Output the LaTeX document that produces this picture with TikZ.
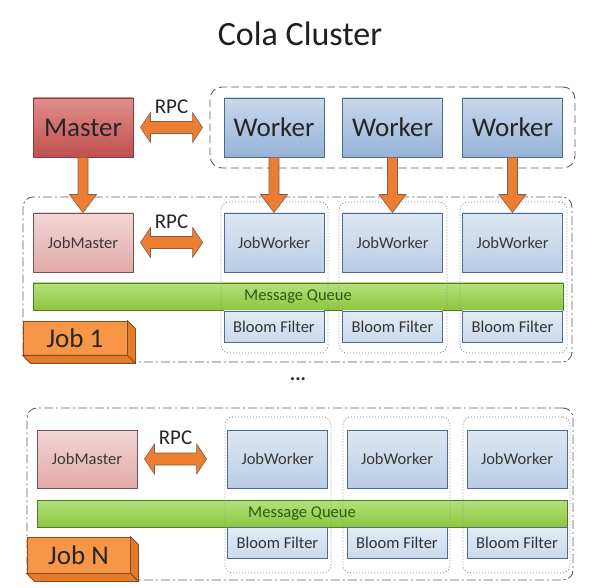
\documentclass[tikz,border=0pt]{standalone}
\usepackage{fontspec}
\setmainfont{Carlito}
\usetikzlibrary{calc}
\definecolor{masterTop}{HTML}{E08E8B}
\definecolor{masterBot}{HTML}{C0504D}
\definecolor{masterDraw}{HTML}{8C3836}
\definecolor{workerTop}{HTML}{C9D8EC}
\definecolor{workerBot}{HTML}{95B3D7}
\definecolor{blueDraw}{HTML}{4F6A8F}
\definecolor{jmTop}{HTML}{F3D6D5}
\definecolor{jmBot}{HTML}{E2A9A7}
\definecolor{jmDraw}{HTML}{6E5656}
\definecolor{jwTop}{HTML}{DDE7F3}
\definecolor{jwBot}{HTML}{B9CDE5}
\definecolor{bfTop}{HTML}{E3EBF5}
\definecolor{bfBot}{HTML}{C9D9EC}
\definecolor{mqTop}{HTML}{B5DF7E}
\definecolor{mqBot}{HTML}{8CC63F}
\definecolor{mqDraw}{HTML}{4F7A28}
\definecolor{mqText}{HTML}{2E5A12}
\definecolor{orangeFill}{HTML}{ED7D31}
\definecolor{orangeDraw}{HTML}{7F6050}
\definecolor{jobFill}{HTML}{F79646}
\definecolor{jobSide}{HTML}{E47B2B}
\definecolor{jobDraw}{HTML}{8A4B1A}
\definecolor{groupDraw}{HTML}{606060}
\definecolor{dotDraw}{HTML}{8A8A8A}
\newcommand{\fatdown}[2]{%
  \draw[fatarrow] let \p1=(#1.south), \p2=(#2.north) in
    (\x1-5pt,\y1) -- (\x1-5pt,\y2+18pt) -- (\x1-13.5pt,\y2+18pt) -- (\x1,\y2)
    -- (\x1+13.5pt,\y2+18pt) -- (\x1+5pt,\y2+18pt) -- (\x1+5pt,\y1) -- cycle;}
\newcommand{\fatboth}[3]{%
  \draw[fatarrow] let \p1=(#1.east), \p2=(#2.west) in
    (\x1+7pt,\y1) -- (\x1+17pt,\y1+15pt) -- (\x1+17pt,\y1+6pt) -- (\x2-#3-10pt,\y1+6pt)
    -- (\x2-#3-10pt,\y1+15pt) -- (\x2-#3,\y1) -- (\x2-#3-10pt,\y1-15pt)
    -- (\x2-#3-10pt,\y1-6pt) -- (\x1+17pt,\y1-6pt) -- (\x1+17pt,\y1-15pt) -- cycle;
  \node[rpc] at ($(#1.east)!0.5!(#1.east -| #2.west)+(-#3/2+3.5,-21)$) {RPC};}
\begin{document}
\begin{tikzpicture}[x=1pt,y=-1pt,
  bigbox/.style={draw, line width=0.9pt, minimum width=100pt, minimum height=59pt, inner sep=0pt, font=\fontsize{27}{30}\selectfont},
  master/.style={bigbox, draw=masterDraw, top color=masterTop, bottom color=masterBot, text=black!85},
  worker/.style={bigbox, draw=blueDraw, top color=workerTop, bottom color=workerBot, text=black!85},
  smallbox/.style={draw, line width=0.9pt, minimum width=100pt, minimum height=59pt, inner sep=0pt, font=\fontsize{16.5}{19}\selectfont, text=black!78},
  jobmaster/.style={smallbox, draw=jmDraw, top color=jmTop, bottom color=jmBot},
  jobworker/.style={smallbox, draw=blueDraw, top color=jwTop, bottom color=jwBot},
  bloom/.style={draw=blueDraw, line width=0.9pt, top color=bfTop, bottom color=bfBot, minimum width=100pt, minimum height=31pt, inner sep=0pt, font=\fontsize{16.5}{19}\selectfont, text=black!80},
  mq/.style={draw=mqDraw, line width=0.9pt, top color=mqTop, bottom color=mqBot, minimum width=530pt, minimum height=27pt, inner sep=0pt, font=\fontsize{16.5}{19}\selectfont, text=mqText},
  jobgroup/.style={draw=groupDraw, line width=0.9pt, dash pattern=on 9pt off 3pt on 2pt off 3pt, rounded corners=10pt, inner sep=0pt},
  workergroup/.style={draw=groupDraw, line width=0.9pt, dash pattern=on 8pt off 4pt, rounded corners=12pt, inner sep=0pt},
  dotgroup/.style={draw=dotDraw, line width=0.8pt, dash pattern=on 1pt off 2pt, rounded corners=8pt, inner sep=0pt},
  joblabel/.style={draw=jobDraw, line width=0.8pt, fill=jobFill, inner sep=0pt, font=\fontsize{27}{30}\selectfont, text=black!85},
  jobface/.style={draw=jobDraw, line width=0.8pt, fill=jobSide},
  fatarrow/.style={draw=orangeDraw, line width=0.6pt, fill=orangeFill},
  rpc/.style={font=\fontsize{21}{24}\selectfont, text=black!85, inner sep=0pt},
]
\useasboundingbox (0,0) rectangle (595,588);
\fill[white] (0,0) rectangle (595,588);

% title
\node[font=\fontsize{34}{40}\selectfont, text=black!88] (title) at (300,34) {Cola Cluster};

% worker group and top row
\node[workergroup, minimum width=365pt, minimum height=81pt] (wg) at (392.5,127.5) {};
\node[master] (master) at (83,127.5) {Master};
\node[worker] (w1) at (274,127.5) {Worker};
\node[worker] (w2) at (392.5,127.5) {Worker};
\node[worker] (w3) at (512.5,127.5) {Worker};

% Job 1
\node[jobgroup, minimum width=549pt, minimum height=165pt] (g1) at (297.5,279.5) {};
\node[mq] (mq1) at (298,296.5) {Message Queue};
\node[dotgroup, minimum width=107pt, minimum height=151pt] (d11) at (274.5,277.5) {};
\node[dotgroup, minimum width=108pt, minimum height=151pt] (d12) at (393,277.5) {};
\node[dotgroup, minimum width=107pt, minimum height=151pt] (d13) at (513.5,277.5) {};
\node[jobmaster] (jm1) at (83,242.5) {JobMaster};
\node[jobworker] (jw11) at (274,242.5) {JobWorker};
\node[jobworker] (jw12) at (392.5,242.5) {JobWorker};
\node[jobworker] (jw13) at (512.5,242.5) {JobWorker};
\node[bloom] (b11) at (274,326.5) {Bloom Filter};
\node[bloom] (b12) at (392.5,326.5) {Bloom Filter};
\node[bloom] (b13) at (512.5,326.5) {Bloom Filter};
\node[joblabel, minimum width=104pt, minimum height=34pt] (job1) at (75,338) {Job 1};
\draw[jobface] (job1.north east) -- ++(8,8) -- ($(job1.south east)+(8,8)$) -- (job1.south east) -- cycle;
\draw[jobface] (job1.south west) -- (job1.south east) -- ++(8,8) -- ($(job1.south west)+(8,8)$) -- cycle;

% arrows top
\fatboth{master}{wg}{7}
\fatdown{master}{jm1}
\fatdown{w1}{jw11}
\fatdown{w2}{jw12}
\fatdown{w3}{jw13}
\fatboth{jm1}{d11}{18}

% dots
\node[font=\bfseries\fontsize{20}{22}\selectfont, text=black!85] (dots) at (298,379) {...};

% Job N
\node[jobgroup, minimum width=546pt, minimum height=172pt] (gN) at (300,494) {};
\node[mq] (mqN) at (302,513.5) {Message Queue};
\node[dotgroup, minimum width=106pt, minimum height=156pt] (dN1) at (278,495) {};
\node[dotgroup, minimum width=107pt, minimum height=156pt] (dN2) at (396.5,495) {};
\node[dotgroup, minimum width=107pt, minimum height=156pt] (dN3) at (516.5,495) {};
\node[jobmaster, minimum height=58pt] (jmN) at (87,459) {JobMaster};
\node[jobworker, minimum height=58pt] (jwN1) at (277.5,459) {JobWorker};
\node[jobworker, minimum height=58pt] (jwN2) at (397,459) {JobWorker};
\node[jobworker, minimum height=58pt] (jwN3) at (517,459) {JobWorker};
\node[bloom] (bN1) at (277.5,542.5) {Bloom Filter};
\node[bloom] (bN2) at (397,542.5) {Bloom Filter};
\node[bloom] (bN3) at (517,542.5) {Bloom Filter};
\node[joblabel, minimum width=103pt, minimum height=36pt] (jobN) at (78.5,555) {Job N};
\draw[jobface] (jobN.north east) -- ++(8,8) -- ($(jobN.south east)+(8,8)$) -- (jobN.south east) -- cycle;
\draw[jobface] (jobN.south west) -- (jobN.south east) -- ++(8,8) -- ($(jobN.south west)+(8,8)$) -- cycle;
\fatboth{jmN}{dN1}{18}
\end{tikzpicture}
\end{document}
